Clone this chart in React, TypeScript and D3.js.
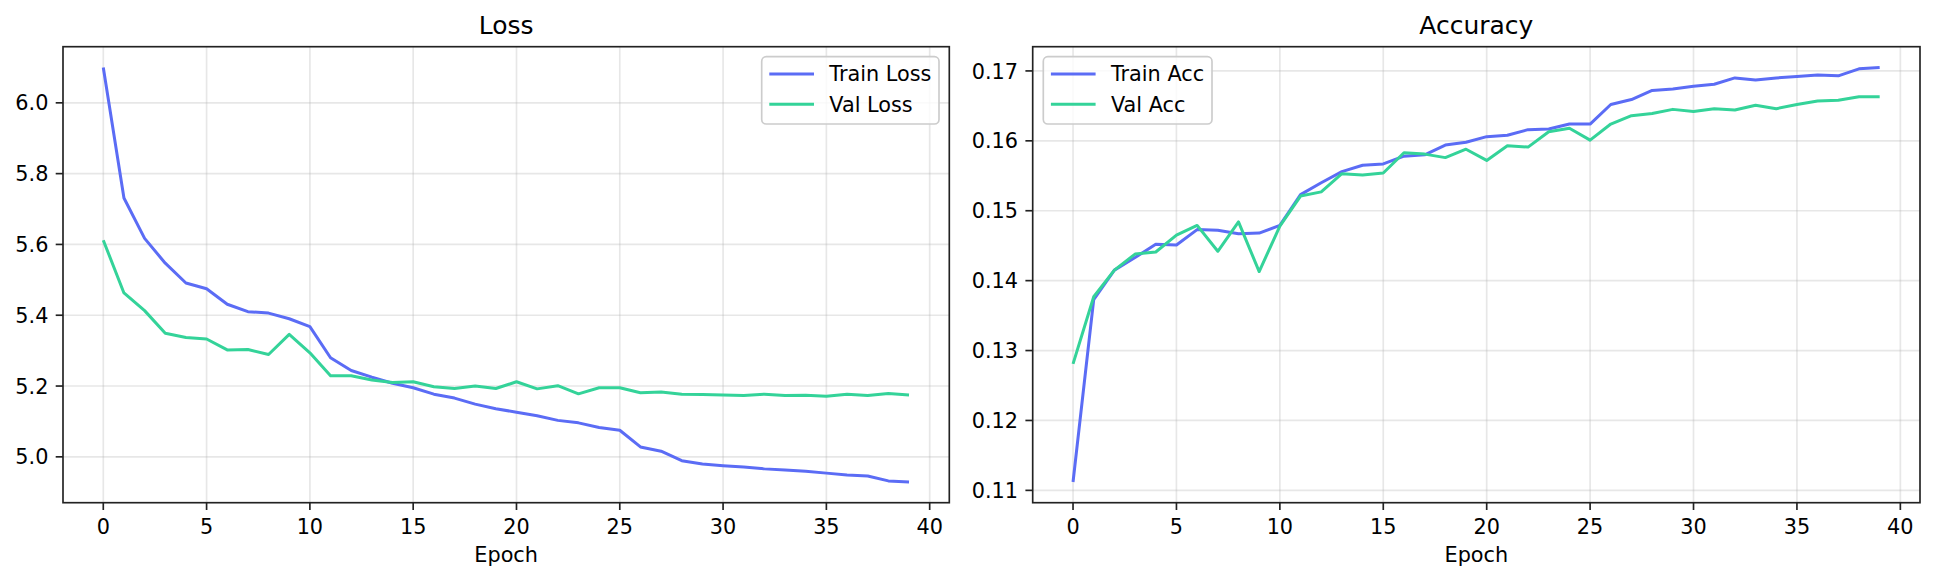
import * as d3 from 'd3';

const epochs = d3.range(40);

const trainLoss = [6.100, 5.731, 5.617, 5.547, 5.491, 5.475, 5.431, 5.410, 5.406, 5.390, 5.368, 5.280, 5.244, 5.225, 5.208, 5.195, 5.177, 5.166, 5.149, 5.136, 5.126, 5.116, 5.103, 5.096, 5.083, 5.075, 5.028, 5.016, 4.989, 4.980, 4.975, 4.971, 4.966, 4.963, 4.959, 4.954, 4.949, 4.946, 4.932, 4.929];
const valLoss = [5.612, 5.463, 5.413, 5.349, 5.337, 5.333, 5.302, 5.303, 5.289, 5.346, 5.294, 5.229, 5.229, 5.217, 5.210, 5.212, 5.198, 5.193, 5.200, 5.193, 5.212, 5.192, 5.201, 5.178, 5.195, 5.195, 5.181, 5.183, 5.177, 5.176, 5.175, 5.173, 5.177, 5.173, 5.174, 5.171, 5.177, 5.173, 5.179, 5.175];
const trainAcc = [0.1112, 0.1373, 0.1415, 0.1433, 0.1452, 0.1451, 0.1473, 0.1472, 0.1467, 0.1468, 0.1479, 0.1523, 0.1540, 0.1556, 0.1565, 0.1567, 0.1578, 0.1580, 0.1594, 0.1598, 0.1606, 0.1608, 0.1616, 0.1617, 0.1624, 0.1624, 0.1652, 0.1659, 0.1672, 0.1674, 0.1678, 0.1681, 0.1690, 0.1687, 0.1690, 0.1692, 0.1694, 0.1693, 0.1703, 0.1705];
const valAcc = [0.1281, 0.1377, 0.1415, 0.1438, 0.1441, 0.1465, 0.1479, 0.1442, 0.1484, 0.1413, 0.1478, 0.1521, 0.1527, 0.1553, 0.1551, 0.1554, 0.1583, 0.1581, 0.1576, 0.1588, 0.1572, 0.1593, 0.1591, 0.1613, 0.1618, 0.1601, 0.1624, 0.1636, 0.1639, 0.1645, 0.1642, 0.1646, 0.1644, 0.1651, 0.1646, 0.1652, 0.1657, 0.1658, 0.1663, 0.1663];

const xTicks = [0, 5, 10, 15, 20, 25, 30, 35, 40];
const lossTicks = [5.0, 5.2, 5.4, 5.6, 5.8, 6.0];
const accTicks = [0.11, 0.12, 0.13, 0.14, 0.15, 0.16, 0.17];

const TRAIN_COLOR = '#5b6cf5';
const VAL_COLOR = '#34d399';
const FONT = '"DejaVu Sans", sans-serif';

const W = 1935;
const H = 581;
const TOP = 46.7;
const BOTTOM = 502.7;

// pad extent by 5% like matplotlib's default margins
const padded = (vals: number[]) => {
  const [lo, hi] = d3.extent(vals) as [number, number];
  const m = (hi - lo) * 0.05;
  return [lo - m, hi + m];
};

type Series = { name: string; values: number[]; color: string };

function Panel({ left, right, title, series, yTicks, fmt, legendSide }: {
  left: number; right: number; title: string; series: Series[];
  yTicks: number[]; fmt: (v: number) => string; legendSide: 'left' | 'right';
}) {
  const x = d3.scaleLinear().domain(padded(epochs)).range([left, right]);
  const y = d3.scaleLinear()
    .domain(padded(series.flatMap(s => s.values)))
    .range([BOTTOM, TOP]);
  const line = (vals: number[]) => d3.line<number>()
    .x((_, i) => x(epochs[i]))
    .y(d => y(d))(vals) || '';

  const lgW = legendSide === 'right' ? 177.3 : 168.7;
  const lgX = legendSide === 'right' ? right - 10.3 - lgW : left + 10.6;
  const lgY = 56.7;

  return (
    <g>
      {/* grid */}
      {xTicks.map(t => (
        <line key={'gx' + t} x1={x(t)} x2={x(t)} y1={TOP} y2={BOTTOM}
          stroke="#b0b0b0" strokeOpacity={0.3} strokeWidth={1.67} />
      ))}
      {yTicks.map(t => (
        <line key={'gy' + t} x1={left} x2={right} y1={y(t)} y2={y(t)}
          stroke="#b0b0b0" strokeOpacity={0.3} strokeWidth={1.67} />
      ))}

      {series.map(s => (
        <path key={s.name} d={line(s.values)} fill="none" stroke={s.color}
          strokeWidth={3} strokeLinejoin="round" />
      ))}

      {/* frame */}
      <rect x={left} y={TOP} width={right - left} height={BOTTOM - TOP}
        fill="none" stroke="#222" strokeWidth={1.67} />

      {/* x axis */}
      {xTicks.map(t => (
        <g key={'xt' + t}>
          <line x1={x(t)} x2={x(t)} y1={BOTTOM} y2={BOTTOM + 7.3} stroke="#222" strokeWidth={1.67} />
          <text x={x(t)} y={BOTTOM + 31.3} textAnchor="middle" fontSize={20.8}
            fontFamily={FONT} fill="#000">{t}</text>
        </g>
      ))}
      <text x={(left + right) / 2} y={561.5} textAnchor="middle" fontSize={20.8}
        fontFamily={FONT} fill="#000">Epoch</text>

      {/* y axis */}
      {yTicks.map(t => (
        <g key={'yt' + t}>
          <line x1={left - 7.3} x2={left} y1={y(t)} y2={y(t)} stroke="#222" strokeWidth={1.67} />
          <text x={left - 14.6} y={y(t) + 7.6} textAnchor="end" fontSize={20.8}
            fontFamily={FONT} fill="#000">{fmt(t)}</text>
        </g>
      ))}

      <text x={(left + right) / 2} y={33.5} textAnchor="middle" fontSize={25}
        fontFamily={FONT} fill="#000">{title}</text>

      {/* legend */}
      <rect x={lgX} y={lgY} width={lgW} height={67.3} rx={4.5}
        fill="#fff" fillOpacity={0.8} stroke="#cccccc" strokeWidth={1.67} />
      {series.map((s, i) => {
        const ly = lgY + 17.3 + i * 30.3;
        return (
          <g key={'lg' + s.name}>
            <line x1={lgX + 7.6} x2={lgX + 52.3} y1={ly} y2={ly} stroke={s.color} strokeWidth={3} />
            <text x={lgX + 67.6} y={ly + 7.3} fontSize={20.8} fontFamily={FONT} fill="#000">{s.name}</text>
          </g>
        );
      })}
    </g>
  );
}

export default function App() {
  return (
    <svg width={W} height={H} style={{ position: 'absolute', left: 0, top: 0, background: '#fff' }}>
      <rect width={W} height={H} fill="#fff" />
      <Panel left={63} right={949.3} title="Loss" legendSide="right"
        yTicks={lossTicks} fmt={d3.format('.1f')}
        series={[
          { name: 'Train Loss', values: trainLoss, color: TRAIN_COLOR },
          { name: 'Val Loss', values: valLoss, color: VAL_COLOR },
        ]} />
      <Panel left={1032.7} right={1920} title="Accuracy" legendSide="left"
        yTicks={accTicks} fmt={d3.format('.2f')}
        series={[
          { name: 'Train Acc', values: trainAcc, color: TRAIN_COLOR },
          { name: 'Val Acc', values: valAcc, color: VAL_COLOR },
        ]} />
    </svg>
  );
}
